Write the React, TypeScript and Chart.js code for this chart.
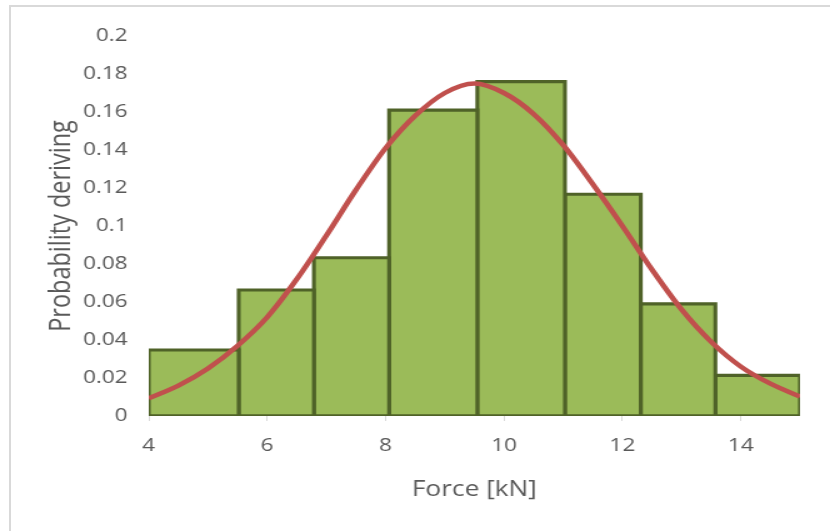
import React, { useEffect, useRef } from "react";
import { Chart, registerables } from "chart.js";

Chart.register(...registerables);

// Histogram bins: edges along the force axis and the probability of each bin
const binEdges = [4, 5.52, 6.79, 8.06, 9.55, 11.03, 12.31, 13.57, 15];
const binProbabilities = [0.0347, 0.0663, 0.0833, 0.161, 0.176, 0.1167, 0.059, 0.0214];

// Fitted density curve sampled along the force axis
const curveForce = [4, 4.5, 5, 5.5, 6, 6.5, 7, 7.5, 8, 8.5, 9, 9.5, 10, 10.5, 11, 11.5, 12, 12.5, 13, 13.5, 14, 14.5, 15];
const curveDensity = [0.0093, 0.016, 0.025, 0.037, 0.052, 0.072, 0.095, 0.119, 0.141, 0.158, 0.17, 0.175, 0.17, 0.159, 0.1426, 0.122, 0.1, 0.077, 0.056, 0.039, 0.026, 0.017, 0.0102];

// Axis ticks
const xTickValues = [4, 6, 8, 10, 12, 14];
const yTickStep = 0.02;

const BAR_FILL = "#9BBB59";
const BAR_EDGE = "#4F6228";
const CURVE = "#C0504D";
const TEXT = "#595959";
const FONT = "'Open Sans', 'DejaVu Sans', sans-serif";

// The chart is drawn on a narrower canvas and widened horizontally
const STRETCH = 1.25;
const W = 830;
const H = 531;
const CW = Math.round(W / STRETCH);

export default function App() {
  const canvasRef = useRef<HTMLCanvasElement | null>(null);

  useEffect(() => {
    const canvas = canvasRef.current;
    if (!canvas) return;

    // one open rectangle (left, top, right sides) per bin, filled down to zero
    const barSets = binProbabilities.map((p, i) => ({
      type: "line" as const,
      data: [
        { x: binEdges[i], y: 0 },
        { x: binEdges[i], y: p },
        { x: binEdges[i + 1], y: p },
        { x: binEdges[i + 1], y: 0 },
      ],
      backgroundColor: BAR_FILL,
      borderColor: BAR_EDGE,
      borderWidth: 3.1,
      borderJoinStyle: "miter" as const,
      borderCapStyle: "butt" as const,
      fill: "origin",
      tension: 0,
      pointRadius: 0,
      pointHoverRadius: 0,
      order: 2,
    }));

    // common bottom edge of the bins
    const baseSet = {
      type: "line" as const,
      data: [
        { x: binEdges[0], y: 0 },
        { x: binEdges[binEdges.length - 1], y: 0 },
      ],
      borderColor: BAR_EDGE,
      borderWidth: 3.5,
      borderCapStyle: "butt" as const,
      fill: false,
      pointRadius: 0,
      pointHoverRadius: 0,
      order: 1,
    };

    const curveSet = {
      type: "line" as const,
      data: curveForce.map((x, i) => ({ x, y: curveDensity[i] })),
      borderColor: CURVE,
      backgroundColor: CURVE,
      borderWidth: 4.5,
      borderCapStyle: "butt" as const,
      fill: false,
      cubicInterpolationMode: "monotone" as const,
      pointRadius: 0,
      pointHoverRadius: 0,
      order: 0,
    };

    const chart = new Chart(canvas, {
      type: "line",
      data: { datasets: [curveSet, baseSet, ...barSets] as any },
      options: {
        animation: false,
        responsive: false,
        events: [],
        layout: { padding: { left: 0, right: CW - 640, top: 36, bottom: 0 } },
        plugins: { legend: { display: false }, tooltip: { enabled: false } },
        scales: {
          x: {
            type: "linear",
            min: 4,
            max: 15,
            afterBuildTicks: (scale: any) => {
              scale.ticks = xTickValues.map((v) => ({ value: v }));
            },
            afterFit: (scale: any) => {
              scale.height = H - 416;
            },
            grid: {
              display: true,
              drawOnChartArea: false,
              drawTicks: true,
              tickLength: 5,
              color: "#d9d9d9",
              lineWidth: 1,
            },
            border: { display: false },
            ticks: {
              autoSkip: false,
              maxRotation: 0,
              padding: 14,
              color: TEXT,
              font: { family: FONT, size: 18 },
            },
            title: {
              display: true,
              text: "Force [kN]",
              color: TEXT,
              font: { family: FONT, size: 21 },
              padding: { top: 0, bottom: 28 },
            },
          },
          y: {
            type: "linear",
            min: 0,
            max: 0.2,
            afterFit: (scale: any) => {
              scale.width = 119;
            },
            grid: { display: false, drawTicks: false },
            border: { display: false },
            ticks: {
              stepSize: yTickStep,
              padding: 17,
              color: TEXT,
              font: { family: FONT, size: 18 },
              callback: (v: any) => String(Number(Number(v).toFixed(2))),
            },
            title: {
              display: true,
              text: "Probability deriving",
              color: TEXT,
              font: { family: FONT, size: 23.5 },
              padding: { top: 35, bottom: 0 },
            },
          },
        },
      },
    });

    return () => chart.destroy();
  }, []);

  return (
    <div
      style={{
        position: "absolute",
        left: 0,
        top: 0,
        width: W,
        height: H,
        overflow: "hidden",
        background: "#ffffff",
      }}
    >
      <div
        style={{
          position: "absolute",
          left: 9,
          top: 5,
          width: W + 40,
          height: H + 40,
          border: "2px solid #d9d9d9",
        }}
      />
      <div
        style={{
          position: "absolute",
          left: 0,
          top: 0,
          width: CW,
          height: H,
          transform: `scaleX(${STRETCH})`,
          transformOrigin: "0 0",
        }}
      >
        <canvas
          ref={canvasRef}
          width={CW}
          height={H}
          style={{ display: "block", width: CW, height: H }}
        />
      </div>
    </div>
  );
}
